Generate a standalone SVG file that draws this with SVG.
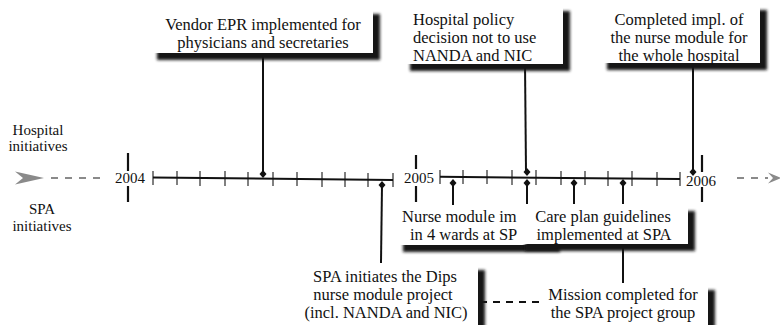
<svg xmlns="http://www.w3.org/2000/svg" width="780" height="325" viewBox="0 0 780 325">
<defs>
<filter id="blur" x="-10%" y="-20%" width="120%" height="140%"><feGaussianBlur stdDeviation="1.6"/></filter>
<style>
.bg{fill:#fff}
.shadow{fill:#151515;filter:url(#blur)}
.box{fill:#fff}
.t{font-family:"Liberation Serif","Times New Roman",serif;font-size:16.5px;fill:#111}
.c{text-anchor:middle}
.s{font-family:"Liberation Serif","Times New Roman",serif;font-size:15px;fill:#111;text-anchor:middle}
.axis{stroke:#111;stroke-width:2;fill:none}
.tick{stroke:#808080;stroke-width:2}
.year{stroke:#111;stroke-width:2.2}
.conn{stroke:#111;stroke-width:2;fill:none}
.dash{stroke:#111;stroke-width:2;stroke-dasharray:7,6;fill:none}
.gdash{stroke:#8a8a8a;stroke-width:2.2;stroke-dasharray:7,7;fill:none}
.dia{fill:#111}
.arrow{fill:#8a8a8a}
</style>
</defs>
<rect class="bg" x="0" y="0" width="780" height="325"/>

<g id="labels">
<text class="s" x="38" y="135">Hospital</text>
<text class="s" x="38" y="151">initiatives</text>
<text class="s" x="42" y="214">SPA</text>
<text class="s" x="42" y="231">initiatives</text>
</g>

<g id="timeline">
<polygon class="arrow" points="44,178 15,171.5 23,178 15,184.5"/>
<line class="gdash" x1="51" y1="178" x2="102" y2="178"/>
<line class="gdash" x1="737" y1="178" x2="768" y2="178"/>
<polygon class="arrow" points="781,178 768,172.5 773,178 768,183.5"/>
<line class="year" x1="128" y1="153" x2="128" y2="171"/>
<line class="year" x1="128" y1="186" x2="128" y2="202"/>
<text class="s" x="130" y="183">2004</text>
<line class="year" x1="416" y1="155" x2="416" y2="169"/>
<line class="year" x1="416" y1="186" x2="416" y2="202"/>
<text class="s" x="419" y="183">2005</text>
<line class="year" x1="702" y1="155" x2="702" y2="172"/>
<line class="year" x1="702" y1="187" x2="702" y2="202"/>
<text class="s" x="701" y="186">2006</text>
<g class="tick">
<line x1="153" y1="171" x2="153" y2="185"/><line x1="177" y1="171" x2="177" y2="185"/><line x1="200" y1="171" x2="200" y2="186"/><line x1="225" y1="171" x2="225" y2="186"/><line x1="248" y1="172" x2="248" y2="186"/><line x1="273" y1="172" x2="273" y2="186"/><line x1="297" y1="172" x2="297" y2="186"/><line x1="322" y1="172" x2="322" y2="187"/><line x1="345" y1="172" x2="345" y2="187"/><line x1="368" y1="173" x2="368" y2="187"/><line x1="393" y1="173" x2="393" y2="187"/>
<line x1="440" y1="170" x2="440" y2="184"/><line x1="463" y1="170" x2="463" y2="184"/><line x1="487" y1="170" x2="487" y2="184"/><line x1="512" y1="170" x2="512" y2="185"/><line x1="536" y1="170" x2="536" y2="185"/><line x1="561" y1="171" x2="561" y2="185"/><line x1="585" y1="171" x2="585" y2="185"/><line x1="608" y1="171" x2="608" y2="186"/><line x1="632" y1="171" x2="632" y2="186"/><line x1="657" y1="172" x2="657" y2="186"/><line x1="680" y1="172" x2="680" y2="186"/>
</g>
<line class="axis" x1="153" y1="177.5" x2="393" y2="180"/>
<line class="axis" x1="440" y1="176.8" x2="680" y2="179"/>
</g>

<g id="connectors">
<line class="conn" x1="263" y1="52" x2="263" y2="174"/>
<line class="conn" x1="525" y1="63" x2="526" y2="172"/>
<line class="conn" x1="693" y1="62" x2="693" y2="172"/>
<line class="conn" x1="382" y1="185" x2="381" y2="263"/>
<line class="conn" x1="453" y1="183" x2="453" y2="206"/>
<line class="conn" x1="527" y1="183" x2="527" y2="205"/>
<line class="conn" x1="574" y1="183" x2="574" y2="205"/>
<line class="conn" x1="623" y1="183" x2="623" y2="284"/>
<line class="dash" x1="480" y1="302" x2="540" y2="302"/>
<g class="dia">
<polygon points="263,170 266.5,174 263,178 259.5,174"/>
<polygon points="382,181 385.5,185 382,189 378.5,185"/>
<polygon points="527,168 530.5,172 527,176 523.5,172"/>
<polygon points="693,168 696.5,172 693,176 689.5,172"/>
<polygon points="453,179 456.5,183 453,187 449.5,183"/>
<polygon points="527,179 530.5,183 527,187 523.5,183"/>
<polygon points="574,179 577.5,183 574,187 570.5,183"/>
<polygon points="623,179 626.5,183 623,187 619.5,183"/>
</g>
</g>

<g id="node-vendor-epr">
<rect class="shadow" x="157" y="14" width="223" height="46"/>
<rect class="box" x="150" y="7" width="223" height="46"/>
<text class="t c" x="263" y="30">Vendor EPR implemented for</text>
<text class="t c" x="263" y="48">physicians and secretaries</text>
</g>

<g id="node-policy">
<rect class="shadow" x="410" y="11" width="160" height="60"/>
<rect class="box" x="403" y="4" width="160" height="60"/>
<text class="t" x="413" y="25">Hospital policy</text>
<text class="t" x="413" y="43">decision not to use</text>
<text class="t" x="413" y="61">NANDA and NIC</text>
</g>

<g id="node-completed">
<rect class="shadow" x="607" y="10" width="160" height="60"/>
<rect class="box" x="600" y="3" width="160" height="60"/>
<text class="t c" x="679" y="25">Completed impl. of</text>
<text class="t c" x="679" y="43">the nurse module for</text>
<text class="t c" x="679" y="61">the whole hospital</text>
</g>

<g id="node-nurse-module">
<rect class="shadow" x="403" y="212" width="157" height="40"/>
<rect class="box" x="396" y="205" width="157" height="40"/>
<text class="t" x="402" y="222">Nurse module im</text>
<text class="t" x="410" y="240">in 4 wards at SP</text>
</g>

<g id="node-care-plan">
<rect class="shadow" x="525" y="211" width="170" height="40"/>
<rect class="box" x="518" y="204" width="170" height="40"/>
<text class="t c" x="603" y="222">Care plan guidelines</text>
<text class="t c" x="604" y="240">implemented at SPA</text>
</g>

<g id="node-spa-initiates">
<rect class="shadow" x="297" y="270" width="188" height="62"/>
<rect class="box" x="290" y="263" width="188" height="62"/>
<text class="t c" x="385" y="282">SPA initiates the Dips</text>
<text class="t c" x="383" y="300">nurse module project</text>
<text class="t c" x="386" y="318">(incl.  NANDA and NIC)</text>
</g>

<g id="node-mission">
<rect class="shadow" x="547" y="290" width="168" height="42"/>
<rect class="box" x="540" y="283" width="168" height="42"/>
<text class="t c" x="623" y="300">Mission completed for</text>
<text class="t c" x="623" y="318">the SPA project group</text>
</g>
</svg>
